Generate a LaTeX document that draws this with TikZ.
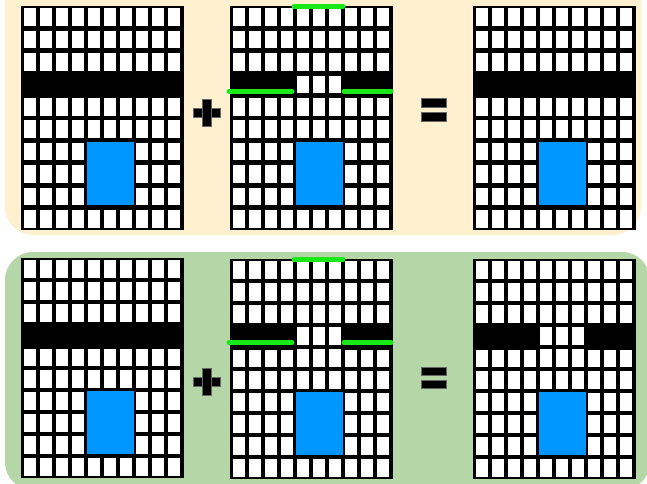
\documentclass[tikz,border=0pt]{standalone}
\usepackage{xcolor}
\usepackage{tikz}
\usetikzlibrary{positioning}

\definecolor{peach}{RGB}{255,240,207}
\definecolor{sage}{RGB}{181,214,167}
\definecolor{cellblue}{RGB}{0,150,255}
\definecolor{edgegreen}{RGB}{25,232,25}

\begin{document}
\begin{tikzpicture}[
    x=1pt, y=-1pt,
    panel/.style={rounded corners=28pt},
    cell/.style={fill=white},
    blockrow/.style={fill=black},
    target/.style={fill=cellblue, draw=black, line width=0.8pt},
    seam/.style={draw=edgegreen, line width=5pt, line cap=round},
    sign/.style={fill=black, draw=black!60, line width=0.5pt}
]
\useasboundingbox (0,0) rectangle (647,483);
\clip (0,0) rectangle (647,483);

% backgrounds
\fill[peach, panel] (5,-30) rectangle (641,235);
\fill[sage, panel] (5,252) rectangle (650,490);

% grids: left x / top y / row pitch
\foreach \gx/\gy/\p in {22/6/22.4, 231/6/22.4, 474/6/22.4, 22/258/22, 231/259/22, 474/259/22} {
  \fill ({\gx-1.5},{\gy}) rectangle ({\gx+161.5},{\gy+10*\p});
  \foreach \c in {0,...,9}
    \foreach \r in {0,...,9}
      \fill[cell] ({\gx+\c*16+1.6},{\gy+\r*\p+2.4}) rectangle ++(12.8,{\p-4.8});
  \fill[target] ({\gx+64},{\gy+6*\p+0.5}) rectangle ({\gx+112},{\gy+9*\p-2});
}

% full rows
\foreach \gx/\gy/\p in {22/6/22.4, 474/6/22.4, 22/258/22}
  \fill[blockrow] ({\gx-1.5},{\gy+3*\p+1.5}) rectangle ({\gx+162},{\gy+4*\p+2.5});

% rows with a gap
\foreach \gx/\gy/\p in {231/6/22.4, 231/259/22, 474/259/22} {
  \fill[blockrow] ({\gx-1.5},{\gy+3*\p+1.5}) rectangle ({\gx+64},{\gy+4*\p+2.5});
  \fill[blockrow] ({\gx+112},{\gy+3*\p+1.5}) rectangle ({\gx+162},{\gy+4*\p+2.5});
}

% green seams
\foreach \gx/\gy/\p in {231/6/22.4, 231/259/22} {
  \coordinate (tl) at ({\gx+63},{\gy+0.5});
  \coordinate (tr) at ({\gx+112},{\gy+0.5});
  \coordinate (la) at ({\gx-2},{\gy+3.8*\p});
  \coordinate (lb) at ({\gx+61},{\gy+3.8*\p});
  \coordinate (ra) at ({\gx+113},{\gy+3.8*\p});
  \coordinate (rb) at ({\gx+160},{\gy+3.8*\p});
  \draw[seam] (tl) -- (tr);
  \draw[seam] (la) -- (lb);
  \draw[seam] (ra) -- (rb);
}

% plus signs
\foreach \sy in {113, 382} {
  \fill[sign] (193.5,{\sy-4.5}) rectangle (220.5,{\sy+4.5});
  \fill[sign] (202.5,{\sy-13.5}) rectangle (211.5,{\sy+13.5});
}

% equals signs
\fill[sign] (421,98) rectangle (446,107);
\fill[sign] (421,112) rectangle (446,121);
\fill[sign] (421,367) rectangle (446,375);
\fill[sign] (421,380) rectangle (446,388);

\end{tikzpicture}
\end{document}
